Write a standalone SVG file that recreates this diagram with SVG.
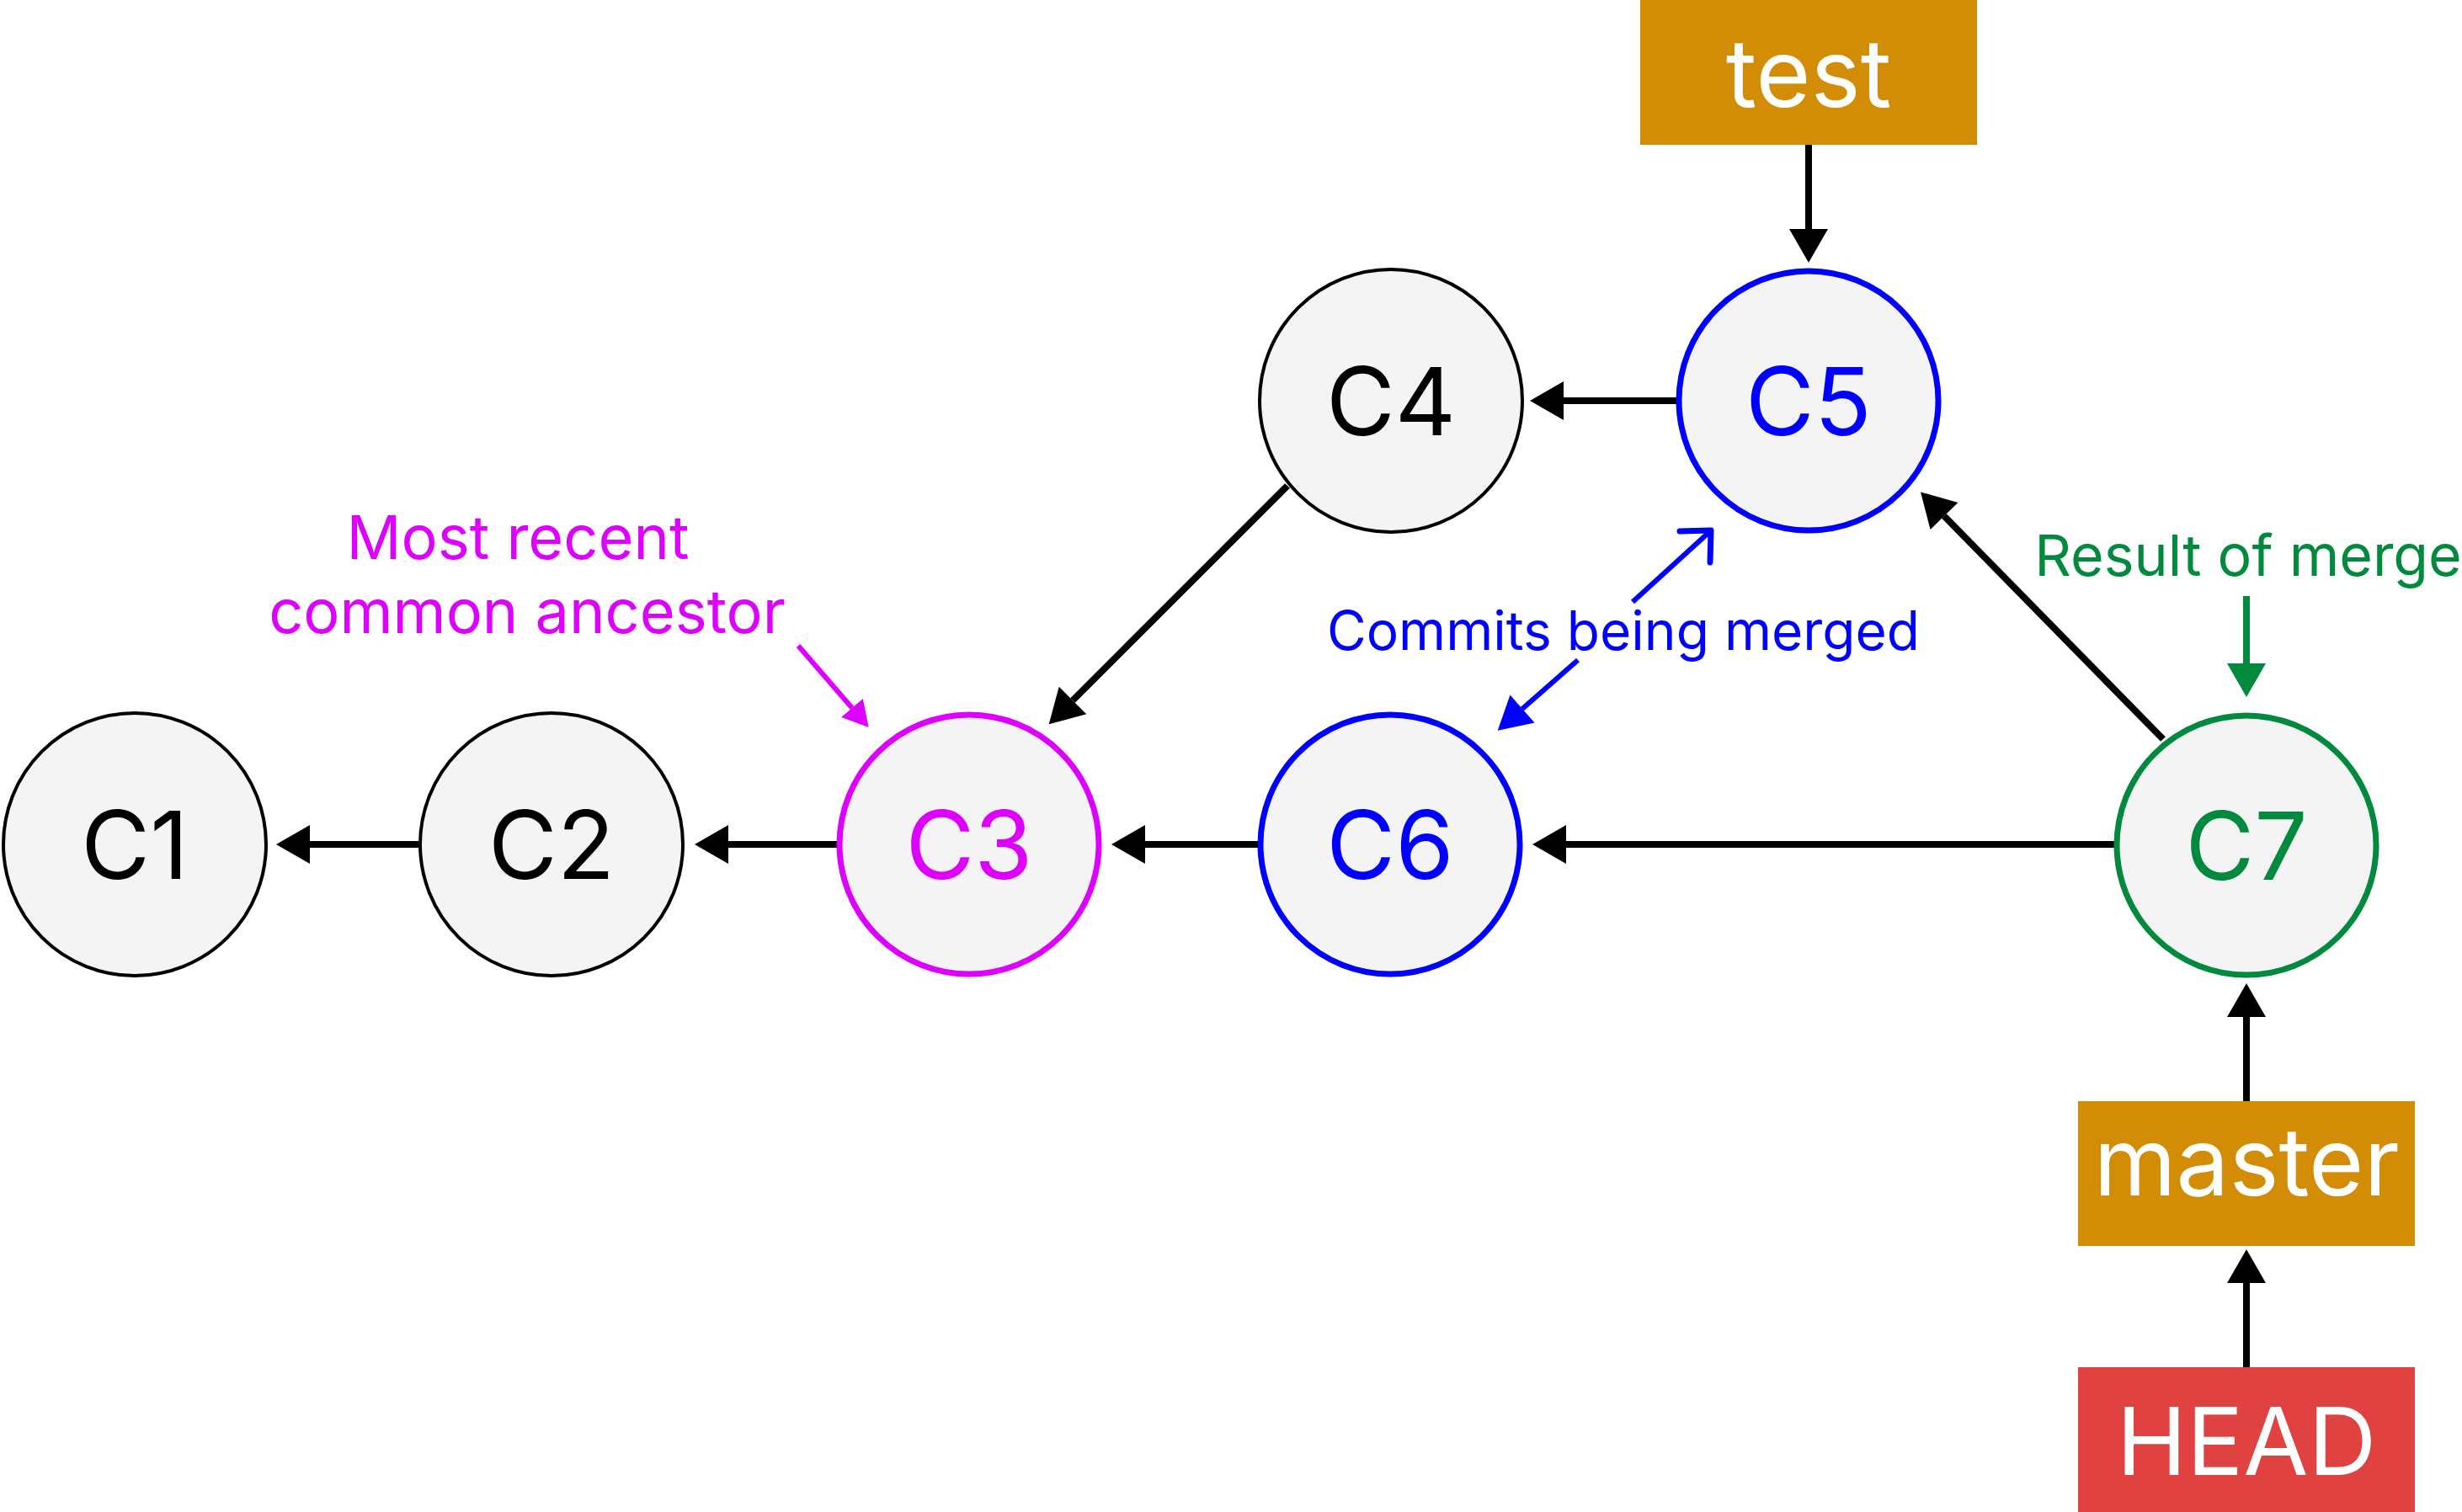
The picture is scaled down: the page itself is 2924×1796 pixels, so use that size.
<svg xmlns="http://www.w3.org/2000/svg" width="2924" height="1796" viewBox="0 0 2924 1796">
<style>
.commit{fill:#F4F4F4;}
.lbl{font-family:Inter,"Liberation Sans",sans-serif;font-size:112px;text-anchor:middle;}
.note{font-family:Inter,"Liberation Sans",sans-serif;text-anchor:middle;}
.conn{fill:none;stroke:#000;stroke-width:8;}
</style>
<defs>
<marker id="ah" markerUnits="userSpaceOnUse" viewBox="0 0 40 46" markerWidth="40" markerHeight="46" refX="0" refY="23" orient="auto" overflow="visible"><path d="M0,0 L40,23 L0,46 Z" fill="#000"/></marker>
<marker id="ahg" markerUnits="userSpaceOnUse" viewBox="0 0 40 46" markerWidth="40" markerHeight="46" refX="0" refY="23" orient="auto" overflow="visible"><path d="M0,0 L40,23 L0,46 Z" fill="#018A3E"/></marker>
<marker id="ahm" markerUnits="userSpaceOnUse" viewBox="0 0 30 34" markerWidth="30" markerHeight="34" refX="0" refY="17" orient="auto" overflow="visible"><path d="M0,0 L30,17 L0,34 Z" fill="#DD00FF"/></marker>
<marker id="ahb" markerUnits="userSpaceOnUse" viewBox="0 0 39 44" markerWidth="39" markerHeight="44" refX="0" refY="22" orient="auto" overflow="visible"><path d="M0,0 L39,22 L0,44 Z" fill="#0000FF"/></marker>
</defs>
<rect width="2924" height="1796" fill="#fff"/>
<g id="connectors">
<line class="conn" x1="497" y1="1003" x2="368" y2="1003" marker-end="url(#ah)"/>
<line class="conn" x1="994" y1="1003" x2="865" y2="1003" marker-end="url(#ah)"/>
<line class="conn" x1="1494" y1="1003" x2="1360" y2="1003" marker-end="url(#ah)"/>
<line class="conn" x1="2511" y1="1003" x2="1860" y2="1003" marker-end="url(#ah)"/>
<line class="conn" x1="1991" y1="476" x2="1857" y2="476" marker-end="url(#ah)"/>
<line class="conn" x1="1529" y1="577" x2="1274" y2="832" marker-end="url(#ah)"/>
<line class="conn" x1="2569" y1="878" x2="2309" y2="613" marker-end="url(#ah)"/>
<line class="conn" x1="2148" y1="172" x2="2148" y2="272" marker-end="url(#ah)"/>
<line class="conn" x1="2668" y1="1308" x2="2668" y2="1208" marker-end="url(#ah)"/>
<line class="conn" x1="2668" y1="1624" x2="2668" y2="1524" marker-end="url(#ah)"/>
<line x1="2668" y1="708" x2="2668" y2="788" stroke="#018A3E" stroke-width="8" marker-end="url(#ahg)"/>
<line x1="948" y1="767" x2="1012" y2="841" stroke="#DD00FF" stroke-width="6" marker-end="url(#ahm)"/>
<line x1="1874" y1="784" x2="1808" y2="842" stroke="#0000FF" stroke-width="6" marker-end="url(#ahb)"/>
<line x1="1939" y1="715" x2="2030" y2="632" stroke="#0000FF" stroke-width="6"/>
<path d="M1995,631 L2032,630 L2031,668" fill="none" stroke="#0000FF" stroke-width="7" stroke-linecap="round" stroke-linejoin="round"/>
</g>
<g id="C1"><circle class="commit" cx="160" cy="1003" r="156" stroke="#000" stroke-width="4"/><text class="lbl" x="160" y="1044" fill="#000">C1</text></g>
<g id="C2"><circle class="commit" cx="655" cy="1003" r="156" stroke="#000" stroke-width="4"/><text class="lbl" x="655" y="1044" fill="#000">C2</text></g>
<g id="C3"><circle class="commit" cx="1151" cy="1003" r="154" stroke="#DD00FF" stroke-width="7"/><text class="lbl" x="1151" y="1044" fill="#DD00FF">C3</text></g>
<g id="C4"><circle class="commit" cx="1652" cy="476" r="156" stroke="#000" stroke-width="4"/><text class="lbl" x="1652" y="517" fill="#000">C4</text></g>
<g id="C5"><circle class="commit" cx="2148" cy="476" r="154" stroke="#0000FF" stroke-width="7"/><text class="lbl" x="2148" y="517" fill="#0000FF">C5</text></g>
<g id="C6"><circle class="commit" cx="1651" cy="1003" r="154" stroke="#0000FF" stroke-width="7"/><text class="lbl" x="1651" y="1044" fill="#0000FF">C6</text></g>
<g id="C7"><circle class="commit" cx="2668" cy="1004" r="154" stroke="#018A3E" stroke-width="7"/><text class="lbl" x="2668" y="1045" fill="#018A3E">C7</text></g>
<g id="test"><rect x="1948" y="0" width="400" height="172" fill="#D38C06"/><text class="lbl" x="2148" y="127" fill="#fff">test</text></g>
<g id="master"><rect x="2468" y="1308" width="400" height="172" fill="#D38C06"/><text class="lbl" x="2668" y="1420" fill="#fff">master</text></g>
<g id="HEAD"><rect x="2468" y="1624" width="400" height="172" fill="#E04141"/><text class="lbl" x="2668" y="1752" fill="#fff">HEAD</text></g>
<g id="note-ancestor"><text class="note" x="615" y="664" font-size="72" fill="#DD00FF">Most recent</text><text class="note" x="626" y="752" font-size="72" fill="#DD00FF">common ancestor</text></g>
<g id="note-merged"><text class="note" x="1928" y="772" font-size="64" fill="#0000FF">Commits being merged</text></g>
<g id="note-result"><text class="note" x="2670" y="684" font-size="68" fill="#018A3E">Result of merge</text></g>
</svg>
